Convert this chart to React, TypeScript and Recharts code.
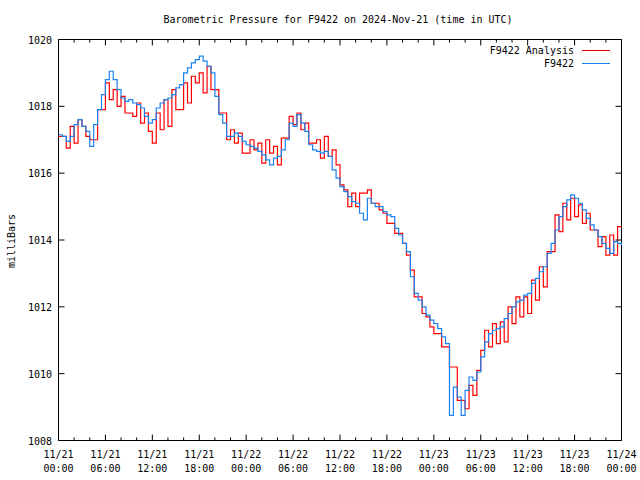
import { LineChart, Line, XAxis, YAxis, ReferenceArea } from 'recharts';

// half-hour samples, hours since 11/21 00:00 UTC
const HOURS = Array.from({ length: 145 }, (_, i) => i / 2);

const ANALYSIS = [
  1017.1, 1017.1, 1016.75, 1017.4, 1016.9, 1017.6, 1017.4, 1017.1, 1017.0, 1017.0,
  1017.9, 1017.9, 1018.7, 1018.2, 1018.5, 1018.0, 1018.3, 1017.8, 1017.8, 1017.7,
  1018.1, 1017.5, 1017.8, 1017.25, 1016.9, 1017.8, 1017.3, 1018.2, 1017.4, 1018.5,
  1017.9, 1017.9, 1018.7, 1018.1, 1018.9, 1018.7, 1019.0, 1018.4, 1019.2, 1018.5,
  1018.5, 1017.8, 1017.8, 1017.0, 1017.3, 1016.9, 1017.2, 1016.6, 1016.6, 1017.0,
  1016.7, 1016.9, 1016.3, 1017.0, 1016.6, 1016.8, 1016.25, 1017.05, 1017.05, 1017.7,
  1017.45, 1017.8, 1017.3, 1017.5, 1016.9, 1016.9, 1017.0, 1016.45, 1017.1, 1016.5,
  1016.7, 1016.25, 1015.65, 1015.5, 1015.0, 1015.4, 1015.0, 1015.4, 1015.4, 1015.5,
  1015.1, 1015.1, 1014.9, 1014.8, 1014.5, 1014.5, 1014.2, 1014.2, 1013.9, 1013.55,
  1013.1, 1012.3, 1012.3, 1011.8, 1011.7, 1011.4, 1011.2, 1011.2, 1010.8, 1010.8,
  1010.2, 1010.2, 1009.2, 1009.2, 1008.95, 1009.65, 1009.35, 1010.1, 1010.7, 1011.3,
  1010.8, 1011.5, 1010.9, 1011.55, 1010.95, 1012.0, 1011.5, 1012.3, 1011.7, 1012.3,
  1011.8, 1012.8, 1012.2, 1013.2, 1012.6, 1013.65, 1013.65, 1014.75, 1014.25, 1015.1,
  1014.6, 1015.25, 1014.7, 1015.05, 1014.5, 1014.8, 1014.3, 1014.3, 1013.8, 1014.1,
  1013.55, 1014.15, 1013.55, 1014.4, 1014.4,
];

const OBSERVED = [
  1017.15, 1017.1, 1016.95, 1017.1, 1017.45, 1017.6, 1017.4, 1017.25, 1016.8, 1017.45,
  1017.9, 1018.35, 1018.8, 1019.05, 1018.8, 1018.5, 1018.25, 1018.15, 1018.2, 1018.1,
  1018.05, 1017.95, 1017.7, 1017.5, 1017.6, 1017.95, 1018.1, 1018.2, 1018.25, 1018.35,
  1018.55, 1018.65, 1019.0, 1019.15, 1019.3, 1019.4, 1019.5, 1019.35, 1019.2, 1019.0,
  1018.3, 1017.75, 1017.5, 1017.1, 1017.1, 1017.2, 1017.1, 1016.95, 1016.85, 1016.8,
  1016.75, 1016.65, 1016.55, 1016.4, 1016.25, 1016.45, 1016.5, 1016.7, 1017.0, 1017.5,
  1017.4, 1017.75, 1017.5, 1017.25, 1016.85, 1016.7, 1016.65, 1016.6, 1016.65, 1016.5,
  1016.1, 1015.85, 1015.6, 1015.45, 1015.3, 1015.15, 1015.1, 1014.8, 1014.6, 1015.25,
  1015.1, 1015.0, 1015.0, 1014.85, 1014.75, 1014.7, 1014.35, 1014.15, 1013.9, 1013.65,
  1012.9, 1012.4, 1012.2, 1012.0, 1011.75, 1011.6, 1011.5, 1011.35, 1011.1, 1010.9,
  1008.75, 1009.6, 1009.3, 1008.75, 1009.5, 1009.9, 1009.8, 1010.05, 1010.5, 1010.95,
  1011.2, 1011.3, 1011.35, 1011.4, 1011.65, 1011.8, 1012.0, 1012.15, 1012.2, 1012.35,
  1012.4, 1012.7, 1012.85, 1013.05, 1013.2, 1013.6, 1013.9, 1014.3, 1014.7, 1015.0,
  1015.2, 1015.35, 1015.25, 1015.1, 1014.9, 1014.65, 1014.45, 1014.3, 1014.1, 1013.9,
  1013.75, 1013.6, 1013.95, 1013.9, 1013.85,
];

const X_TICKS = [0, 2, 4, 6, 8, 10, 12, 14, 16, 18, 20, 22, 24, 26, 28, 30, 32, 34, 36,
  38, 40, 42, 44, 46, 48, 50, 52, 54, 56, 58, 60, 62, 64, 66, 68, 70, 72];
const DAY_LABELS = ['11/21', '11/22', '11/23', '11/24'];
const HOUR_LABELS = ['00:00', '06:00', '12:00', '18:00'];
const Y_TICKS = [1008, 1010, 1012, 1014, 1016, 1018, 1020];

const SERIES = [
  { key: 'analysis', name: 'F9422 Analysis', color: '#ff0000' },
  { key: 'obs', name: 'F9422', color: '#1a82f0' },
];

const data = HOURS.map((h, i) => ({ h, analysis: ANALYSIS[i], obs: OBSERVED[i] }));

const FONT = '"DejaVu Sans Mono", "Liberation Mono", monospace';
const TOP = 39.5;
const BOTTOM = 440.5;
const LEFT = 58.5;
const RIGHT = 621.5;

function XTick({ x, payload }: any) {
  const v = payload.value;
  const major = v % 6 === 0;
  const len = major ? 6 : 3;
  return (
    <g>
      <line x1={x} x2={x} y1={BOTTOM} y2={BOTTOM - len} stroke="#000" />
      <line x1={x} x2={x} y1={TOP} y2={TOP + len} stroke="#000" />
      {major && (
        <text x={x} y={458} textAnchor="middle" fontFamily={FONT} fontSize={10} fill="#000">
          <tspan x={x} dy={0}>{DAY_LABELS[Math.floor(v / 24)]}</tspan>
          <tspan x={x} dy={14}>{HOUR_LABELS[(v % 24) / 6]}</tspan>
        </text>
      )}
    </g>
  );
}

function YTick({ y, payload }: any) {
  return (
    <g>
      <line x1={LEFT} x2={LEFT + 6} y1={y} y2={y} stroke="#000" />
      <line x1={RIGHT} x2={RIGHT - 6} y1={y} y2={y} stroke="#000" />
      <text x={52} y={y + 4} textAnchor="end" fontFamily={FONT} fontSize={10} fill="#000">
        {payload.value}
      </text>
    </g>
  );
}

export default function App() {
  return (
    <div style={{ position: 'absolute', left: 0, top: 0, width: 640, height: 480, background: '#fff' }}>
      <div
        style={{
          position: 'absolute', left: 0, width: 676, top: 14, textAlign: 'center',
          fontFamily: FONT, fontSize: 10, lineHeight: '12px', color: '#000',
        }}
      >
        Barometric Pressure for F9422 on 2024-Nov-21 (time in UTC)
      </div>
      <div
        style={{
          position: 'absolute', left: 11, top: 241, transform: 'translate(-50%, -50%) rotate(-90deg)',
          fontFamily: FONT, fontSize: 10, color: '#000', whiteSpace: 'nowrap',
        }}
      >
        milliBars
      </div>
      <LineChart width={640} height={480} data={data} margin={{ top: TOP, right: 640 - RIGHT, bottom: 0, left: 0.5 }}>
        <XAxis
          dataKey="h"
          type="number"
          domain={[0, 72]}
          ticks={X_TICKS}
          interval={0}
          height={480 - BOTTOM}
          axisLine={false}
          tickLine={false}
          tick={<XTick />}
        />
        <YAxis
          type="number"
          domain={[1008, 1020]}
          ticks={Y_TICKS}
          interval={0}
          width={LEFT - 0.5}
          axisLine={false}
          tickLine={false}
          tick={<YTick />}
        />
        <ReferenceArea x1={0} x2={72} y1={1008} y2={1020} fill="none" stroke="#000" strokeWidth={1} />
        {SERIES.map(s => (
          <Line
            key={s.key}
            name={s.name}
            type="stepAfter"
            dataKey={s.key}
            stroke={s.color}
            strokeWidth={1.2}
            dot={false}
            isAnimationActive={false}
          />
        ))}
      </LineChart>
      <div style={{ position: 'absolute', top: 44, right: 30, fontFamily: FONT, fontSize: 10, color: '#000' }}>
        {SERIES.map(s => (
          <div key={s.key} style={{ display: 'flex', justifyContent: 'flex-end', alignItems: 'center', height: 13 }}>
            <span>{s.name}</span>
            <span style={{ display: 'block', width: 28, height: 1, background: s.color, marginLeft: 8 }} />
          </div>
        ))}
      </div>
    </div>
  );
}
